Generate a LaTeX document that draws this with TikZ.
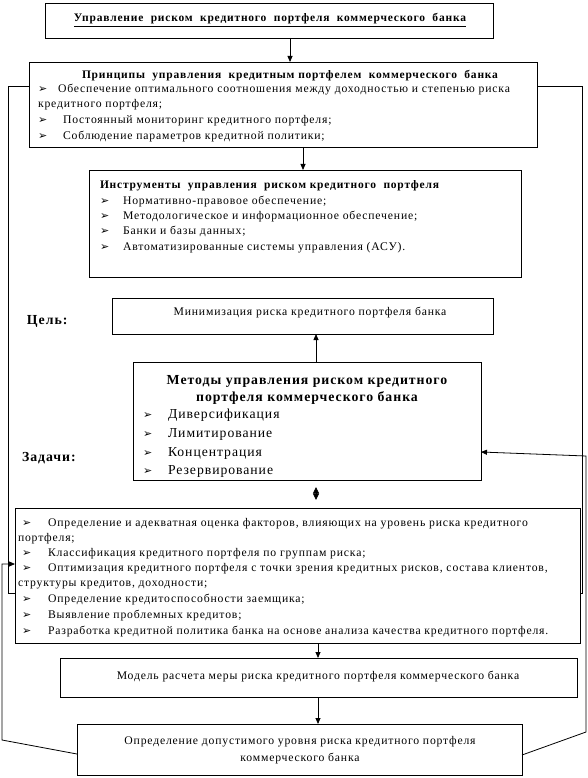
\documentclass[tikz,border=0pt]{standalone}
\usepackage{fontspec}
\setmainfont{Liberation Serif}[LetterSpace=7]
\newfontfamily\dvfont{DejaVu Sans}
\usetikzlibrary{arrows.meta,calc}
\newcommand\mybul{{\dvfont\fontsize{11}{11}\selectfont ➢}}
\begin{document}
\begin{tikzpicture}[x=1pt,y=-1pt,
  box/.style={draw, line width=0.8pt, inner sep=0pt, outer sep=0pt, anchor=north west},
  txt/.style={inner sep=0pt, outer sep=0pt, anchor=base west, font=\fontsize{11.7}{13}\selectfont},
  btxt/.style={txt, font=\fontsize{11.5}{13}\selectfont\bfseries},
  ctxt/.style={txt, anchor=base},
  big/.style={txt, font=\fontsize{13.7}{15}\selectfont},
  bigb/.style={txt, anchor=base, font=\fontsize{13.8}{15}\selectfont\bfseries},
  lbl/.style={txt, font=\fontsize{13.8}{14}\selectfont\bfseries},
  bul/.style={inner sep=0pt, outer sep=0pt, anchor=base west},
  arr/.style={line width=0.8pt, -{Triangle[length=6pt,width=5pt]}},
  ln/.style={line width=0.8pt},
  dbl/.style={line width=0.8pt, {Triangle[length=6.5pt,width=6pt]}-{Triangle[length=6.5pt,width=6pt]}}
]
\useasboundingbox (0,0) rectangle (587,778);

% top box
\node[box, minimum width=448pt, minimum height=35pt] (top) at (45,3) {};
\node[btxt, anchor=base] (toptxt) at (270,22) {\underline{Управление\ \ риском\ \ кредитного\ \ портфеля\ \ коммерческого\ \ банка}};

% principles
\node[box, minimum width=508pt, minimum height=85pt] (prin) at (29,62) {};
\node[btxt, anchor=base] (prt) at (290,79) {Принципы\ \ управления\ \ кредитным портфелем\ \ коммерческого\ \ банка};
\node[bul] (pb1) at (38,93) {\mybul};
\node[txt] (p1) at (58,93) {Обеспечение оптимального\ соотношения между доходностью\ и степенью риска};
\node[txt] (p1c) at (38,108) {кредитного портфеля;};
\node[bul] (pb2) at (38,124) {\mybul};
\node[txt] (p2) at (63,124) {Постоянный мониторинг кредитного\ портфеля;};
\node[bul] (pb3) at (38,140) {\mybul};
\node[txt] (p3) at (63,140) {Соблюдение\ параметров кредитной политики;};

% instruments
\node[box, minimum width=432pt, minimum height=107pt] (inst) at (89,170) {};
\node[btxt] (it) at (100,189) {Инструменты\ \ управления\ \ риском кредитного\ \ портфеля};
\node[bul] (ib1) at (100,204) {\mybul};
\node[txt] (i1) at (123,204) {Нормативно-правовое\ обеспечение;};
\node[bul] (ib2) at (100,219) {\mybul};
\node[txt] (i2) at (123,219) {Методологическое\ и информационное обеспечение;};
\node[bul] (ib3) at (100,234) {\mybul};
\node[txt] (i3) at (123,234) {Банки\ и базы данных;};
\node[bul] (ib4) at (100,250) {\mybul};
\node[txt] (i4) at (123,250) {Автоматизированные\ системы управления (АСУ).};

% goal
\node[lbl] (cel) at (27,324) {Цель:};
\node[box, minimum width=381pt, minimum height=36pt] (goal) at (112,298) {};
\node[ctxt] (gt) at (310,315) {Минимизация риска кредитного\ портфеля банка};

% methods
\node[box, minimum width=348pt, minimum height=118pt] (meth) at (133,362) {};
\node[bigb] (mt1) at (307,384) {Методы управления риском кредитного};
\node[bigb] (mt2) at (307,401) {портфеля коммерческого банка};
\node[bul] (mb1) at (143,418) {\mybul};
\node[big] (m1) at (168,418) {Диверсификация};
\node[bul] (mb2) at (143,437) {\mybul};
\node[big] (m2) at (168,437) {Лимитирование};
\node[bul] (mb3) at (143,456) {\mybul};
\node[big] (m3) at (168,456) {Концентрация};
\node[bul] (mb4) at (143,474) {\mybul};
\node[big] (m4) at (168,474) {Резервирование};

\node[lbl] (zad) at (22,461) {Задачи:};

% tasks
\node[box, minimum width=565pt, minimum height=135pt] (tasks) at (15,508) {};
\node[bul] (tb1) at (22,526) {\mybul};
\node[txt] (t1) at (48,526) {Определение\ и адекватная\ оценка\ факторов, влияющих\ на уровень риска кредитного};
\node[txt] (t1c) at (18,541) {портфеля;};
\node[bul] (tb2) at (22,556) {\mybul};
\node[txt] (t2) at (48,556) {Классификация кредитного\ портфеля по группам риска;};
\node[bul] (tb3) at (22,571) {\mybul};
\node[txt] (t3) at (48,571) {Оптимизация кредитного\ портфеля с точки зрения кредитных\ рисков, состава клиентов,};
\node[txt] (t3c) at (18,586) {структуры кредитов,\ доходности;};
\node[bul] (tb4) at (22,602) {\mybul};
\node[txt] (t4) at (48,602) {Определение кредитоспособности заемщика;};
\node[bul] (tb5) at (22,618) {\mybul};
\node[txt] (t5) at (48,618) {Выявление\ проблемных кредитов;};
\node[bul] (tb6) at (22,634) {\mybul};
\node[txt] (t6) at (48,634) {Разработка кредитной политика\ банка на основе анализа качества кредитного\ портфеля.};

% model
\node[box, minimum width=517pt, minimum height=39pt] (model) at (60,658) {};
\node[ctxt] (mdt) at (318,679) {Модель\ расчета меры риска кредитного портфеля коммерческого банка};

% bottom
\node[box, minimum width=445pt, minimum height=51pt] (bot) at (77,724) {};
\node[ctxt] (bt1) at (300,744) {Определение\ допустимого уровня риска кредитного\ портфеля};
\node[ctxt] (bt2) at (300,761) {коммерческого банка};

% vertical arrows
\draw[arr] (top.south west) ++(245,0) coordinate (a1) -- (a1 |- prin.north);
\draw[arr] (prin.south west) ++(274,0) coordinate (a2) -- (a2 |- inst.north);
\draw[arr] (meth.north west) ++(183,0) coordinate (a3) -- (a3 |- goal.south);
\draw[dbl] (meth.south west) ++(183,7) coordinate (a4) -- ++(0,13);
\draw[arr] (tasks.south west) ++(303,0) coordinate (a5) -- (a5 |- model.north);
\draw[arr] (model.south west) ++(258,0) coordinate (a6) -- (a6 |- bot.north);

% side connectors
\draw[ln] (prin.north west) ++(0,24) -| ($(tasks.north west)+(-7,85)$) -- ++(7,0);
\draw[ln] (prin.north east) ++(0,24) -| ($(tasks.north east)+(2,85)$) -- ++(-2,0);
\draw[arr] (bot.north west) ++(0,30) -- ($(tasks.north west)+(-13,232)$) |- ($(tasks.north west)+(0,56)$);
\draw[arr] (bot.north east) ++(0,31) -- ($(tasks.north east)+(6,224)$) -- ($(tasks.north east)+(6,-52)$) -- ($(meth.north east)+(0,90)$);
\end{tikzpicture}
\end{document}
